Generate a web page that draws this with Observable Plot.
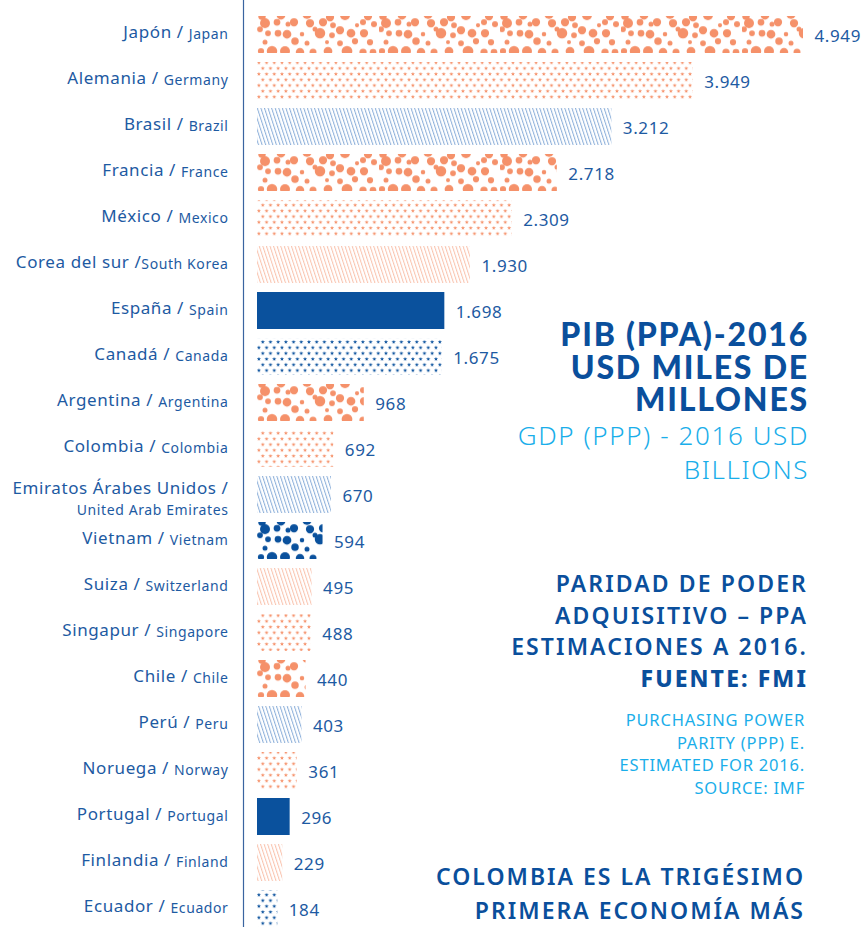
<!DOCTYPE html>
<html><head><meta charset="utf-8">
<script src="https://cdn.jsdelivr.net/npm/d3@7"></script>
<script src="https://cdn.jsdelivr.net/npm/@observablehq/plot@0.6"></script>
<style>
body{margin:0;background:#fff;font-family:"Noto Sans",sans-serif;}
#wrap{position:relative;width:864px;height:927px;overflow:hidden;}
.note{position:absolute;right:57px;text-align:right;white-space:nowrap;}
#t1{top:318px;right:55px;font-family:Lato,sans-serif;font-weight:900;font-size:32px;line-height:32.5px;letter-spacing:1.8px;color:#0a4f9c;}
#t2{top:418px;right:55px;font-family:"Noto Sans",sans-serif;font-weight:300;font-size:26px;line-height:34px;letter-spacing:1.6px;color:#1aaeea;}
#t3{top:568px;right:56px;font-family:"Noto Sans",sans-serif;font-weight:600;font-size:23px;line-height:31.5px;letter-spacing:2.1px;color:#0a4f9c;}
#t3 b{font-weight:800;}
#t4{top:709px;right:59px;font-family:"Noto Sans",sans-serif;font-weight:400;font-size:16.5px;line-height:22.5px;letter-spacing:0.8px;color:#1aaeea;}
#t5{top:860px;right:59px;font-family:"Noto Sans",sans-serif;font-weight:600;font-size:23px;line-height:33.5px;letter-spacing:2px;color:#0a4f9c;}
</style></head><body>
<div id="wrap">
  <div id="chart"></div>
  <div class="note" id="t1">PIB (PPA)-2016<br>USD MILES DE<br>MILLONES</div>
  <div class="note" id="t2">GDP (PPP) - 2016 USD<br>BILLIONS</div>
  <div class="note" id="t3">PARIDAD DE PODER<br>ADQUISITIVO – PPA<br>ESTIMACIONES A 2016.<br><b>FUENTE: FMI</b></div>
  <div class="note" id="t4">PURCHASING POWER<br>PARITY (PPP) E.<br>ESTIMATED FOR 2016.<br>SOURCE: IMF</div>
  <div class="note" id="t5">COLOMBIA ES LA TRIGÉSIMO<br>PRIMERA ECONOMÍA MÁS</div>
</div>
<script>
// ---- data ----
const paisesES = ["Japón /","Alemania /","Brasil /","Francia /","México /","Corea del sur /","España /","Canadá /","Argentina /","Colombia /","Emiratos Árabes Unidos /","Vietnam /","Suiza /","Singapur /","Chile /","Perú /","Noruega /","Portugal /","Finlandia /","Ecuador /"];
const paisesEN = ["Japan","Germany","Brazil","France","Mexico","South Korea","Spain","Canada","Argentina","Colombia","United Arab Emirates","Vietnam","Switzerland","Singapore","Chile","Peru","Norway","Portugal","Finland","Ecuador"];
const pib = [4949,3949,3212,2718,2309,1930,1698,1675,968,692,670,594,495,488,440,403,361,296,229,184];
const patron = ["bubO","starO","lineB","bubO","starO","lineO","solidB","starB","bubO","starO","lineB","bubB","lineO","starO","bubO","lineB","starO","solidB","lineO","starB"];

const data = paisesES.map((es,i)=>({id:i, es, en:paisesEN[i], v:pib[i], pat:patron[i], wrap: es.length>20}));
const fmt = d3.formatLocale({decimal:",",thousands:".",grouping:[3],currency:["",""]}).format(",d");

const ORANGE="#f5916a", DBLUE="#0a519d", LBLUE="#8fb1da", LORANGE="#f9c4af", TXT="#1d5aa2";
const fills = {bubO:"url(#bubO)",starO:"url(#starO)",lineB:"url(#lineB)",lineO:"url(#lineO)",solidB:DBLUE,starB:"url(#starB)",bubB:"url(#bubB)"};

const plot = Plot.plot({
  width:864, height:927,
  marginLeft:243, marginRight:61, marginTop:0, marginBottom:0,
  style:{fontFamily:"'Noto Sans',sans-serif", background:"#fff", letterSpacing:"0.6px"},
  x:{domain:[0,d3.max(pib)], insetLeft:14, axis:null},
  y:{domain:data.map(d=>d.es), range:[5,938], padding:0.2, axis:null},
  marks:[
    ...Object.keys(fills).map(k=>Plot.barX(data.filter(d=>d.pat===k),{x:"v", y:"es", fill:fills[k]})),
    Plot.frame({anchor:"left", stroke:"#3a64a0", strokeWidth:1.2}),
    Plot.text(data,{x:"v", y:"es", text:d=>fmt(d.v), textAnchor:"start", dx:11, dy:2, fontSize:17, fill:TXT}),
    Plot.text(data.filter(d=>!d.wrap),{y:"es", frameAnchor:"left", text:d=>d.es+"\u00a0"+d.en, textAnchor:"end", dx:-15, dy:-2, fontSize:17, fill:TXT, className:"lbl"}),
    Plot.text(data.filter(d=>d.wrap),{y:"es", frameAnchor:"left", text:"es", textAnchor:"end", dx:-15, dy:-6, fontSize:17, fill:TXT}),
    Plot.text(data.filter(d=>d.wrap),{y:"es", frameAnchor:"left", text:"en", textAnchor:"end", dx:-15, dy:16, fontSize:14, fill:TXT})
  ]
});

// smaller English part inside each label
const plain = data.filter(d=>!d.wrap);
d3.select(plot).selectAll("g.lbl text").each(function(_,i){
  const d = plain[i]; const t = d3.select(this); t.text(null);
  t.append("tspan").text(d.es + (d.es.startsWith("Corea")?"":"\u00a0"));
  t.append("tspan").attr("font-size",14).attr("dy",1).text(d.en);
});

// patterns
const ys = plot.scale("y");
const step = ys.step, top0 = ys.range[0] + step*0.2; // band top of first bar
const defs = d3.select(plot).insert("defs",":first-child");
function star(cx,cy,r){let p="";for(let k=0;k<10;k++){const a=-Math.PI/2+k*Math.PI/5, rr=k%2?r*0.45:r;p+=(k?"L":"M")+(cx+rr*Math.cos(a)).toFixed(2)+","+(cy+rr*Math.sin(a)).toFixed(2);}return p+"Z";}
function starPat(id,color){
  const p=defs.append("pattern").attr("id",id).attr("patternUnits","userSpaceOnUse").attr("x",257).attr("y",top0).attr("width",7.7).attr("height",11.4);
  p.append("path").attr("d",star(1.9,2.9,2.1)+star(5.75,8.6,2.1)).attr("fill",color);
}
function linePat(id,color){
  const p=defs.append("pattern").attr("id",id).attr("patternUnits","userSpaceOnUse").attr("width",3.4).attr("height",10).attr("patternTransform","rotate(-18)");
  p.append("rect").attr("x",0).attr("y",0).attr("width",1.05).attr("height",10).attr("fill",color);
}
const bubbles=[[5,2,3],[24,1,3.5],[50,0,3.8],[73,3,3.3],[88,1,4],[111,2,3.3],
 [8,9,4],[20,8,2.7],[31,10,2],[37,8,3.3],[53,9,3.3],[66,8,3.3],[76,11,2.3],[100,11,1.7],[106,8,2.4],[117,10,2.4],
 [3,15,2.3],[58,15,2],[11,19,2.3],[21,19,2.7],[30,20,3.5],[45,20,1.8],[63,19,4.2],[75,21,2.3],[83,16,3.3],[94,19,3.5],[107,19,3.3],
 [8,28,2],[38,27,3],[50,29,2],[70,28,1.6],[83,29,2.3],[98,27,2.5],[113,28,2.5],
 [4,37,2.5],[15,37,4.2],[28,37,4],[43,38,3.4],[56,38,2.8],[71,37,3.5],[90,37,4.3],[106,38,2.9],[116,38,2.7]];
function bubPat(id,color){
  const p=defs.append("pattern").attr("id",id).attr("patternUnits","userSpaceOnUse").attr("x",257).attr("y",top0).attr("width",121).attr("height",step);
  bubbles.forEach(([x,y,r])=>p.append("circle").attr("cx",x).attr("cy",y).attr("r",r*1.25).attr("fill",color));
}
bubPat("bubO",ORANGE); bubPat("bubB",DBLUE);
starPat("starO",ORANGE); starPat("starB",DBLUE);
linePat("lineB",LBLUE); linePat("lineO",LORANGE);

document.getElementById("chart").appendChild(plot);
</script>
</body></html>
